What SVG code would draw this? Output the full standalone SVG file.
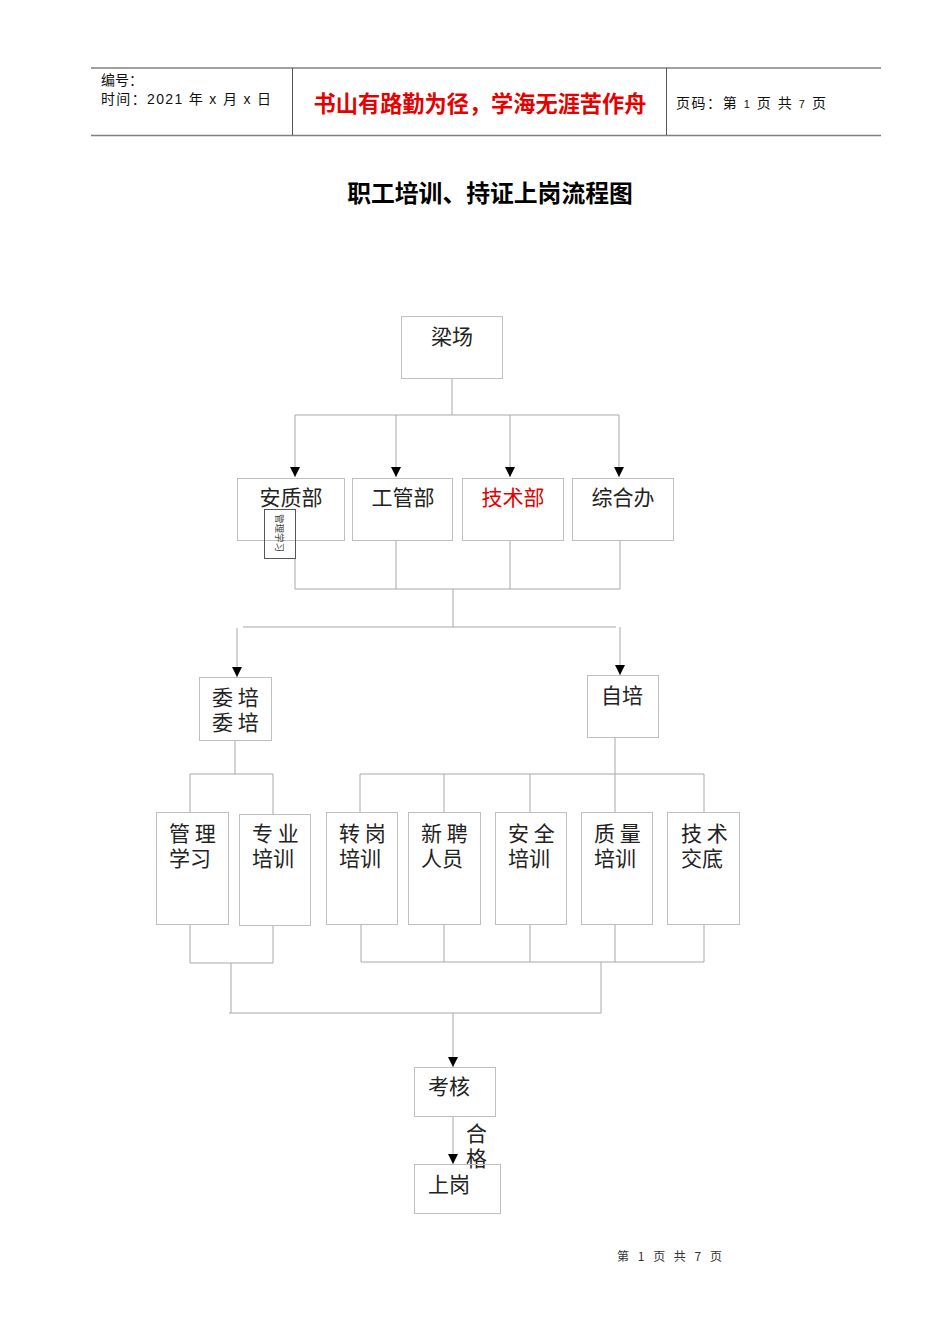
<svg xmlns="http://www.w3.org/2000/svg" width="950" height="1344" viewBox="0 0 950 1344">
<style>
.hd{stroke:#808080;stroke-width:1.5;fill:none}
.box{fill:none;stroke:#bfbfbf;stroke-width:1}
.ln{fill:none;stroke:#a8a8a8;stroke-width:1}
.t{font-family:"Noto Sans CJK SC","Noto Sans CJK JP",sans-serif;font-size:21px;fill:#222}
.h{font-family:"Liberation Sans","Noto Sans CJK SC",sans-serif;font-size:14px;fill:#111}
</style>
<defs>
<marker id="ar" markerUnits="userSpaceOnUse" markerWidth="10" markerHeight="10" refX="10" refY="5" orient="auto" viewBox="0 0 10 10">
<path d="M0,0 L10,5 L0,10 z" fill="#000"/>
</marker>
</defs>
<rect width="950" height="1344" fill="#fff"/>
<g id="header">
<line class="hd" x1="91" y1="68" x2="881" y2="68"/>
<line class="hd" x1="91" y1="135.5" x2="881" y2="135.5"/>
<line x1="292.5" y1="68" x2="292.5" y2="135" stroke="#555" stroke-width="1"/>
<line x1="666.5" y1="68" x2="666.5" y2="135" stroke="#555" stroke-width="1"/>
<text class="h" x="101" y="85">编号：</text>
<text class="h" x="101" y="104" textLength="170" lengthAdjust="spacing">时间：2021 年 x 月 x 日</text>
<text x="480" y="112" text-anchor="middle" font-family="'Noto Sans CJK SC',sans-serif" font-size="22.2" font-weight="bold" fill="#e60000">书山有路勤为径，学海无涯苦作舟</text>
<text class="h" x="676" y="108" textLength="150" lengthAdjust="spacing">页码：第 <tspan font-size="11">1</tspan> 页  共 <tspan font-size="11">7</tspan> 页</text>
</g>
<text id="title" x="490" y="202" text-anchor="middle" font-family="'Noto Sans CJK SC',sans-serif" font-size="23.8" font-weight="bold" fill="#000">职工培训、持证上岗流程图</text>
<g id="connectors">
<path class="ln" d="M452,378 V415 M295,415 H619"/>
<path class="ln" d="M295,415 V477" marker-end="url(#ar)"/>
<path class="ln" d="M396,415 V477" marker-end="url(#ar)"/>
<path class="ln" d="M510,415 V477" marker-end="url(#ar)"/>
<path class="ln" d="M619,415 V477" marker-end="url(#ar)"/>
<path class="ln" d="M295,558 V589 M396,540 V589 M510,540 V589 M620,540 V589 M295,589 H620 M453,589 V627 M243,627 H616"/>
<path class="ln" d="M237,628 V677" marker-end="url(#ar)"/>
<path class="ln" d="M620,627 V675" marker-end="url(#ar)"/>
<path class="ln" d="M235,740 V774 M190,774 H273 M190,774 V812 M273,774 V814"/>
<path class="ln" d="M615,737 V774 M360,774 H704 M360,774 V812 M444,774 V812 M530,774 V812 M615,774 V812 M704,774 V812"/>
<path class="ln" d="M190,924 V963 M273,925 V963 M190,963 H273 M231,963 V1013"/>
<path class="ln" d="M361,924 V962 M444,924 V962 M530,924 V962 M615,924 V962 M704,924 V962 M361,962 H704 M601,962 V1013 M229,1013 H601"/>
<path class="ln" d="M453,1013 V1067" marker-end="url(#ar)"/>
<path class="ln" d="M453,1116 V1164" marker-end="url(#ar)"/>
</g>
<g id="n-liangchang"><rect class="box" x="401.5" y="316.5" width="101" height="62"/><text class="t" x="452" y="344" text-anchor="middle">梁场</text></g>
<g id="n-anzhibu"><rect class="box" x="237.5" y="478.5" width="107" height="62"/><text class="t" x="291" y="505" text-anchor="middle">安质部</text></g>
<g id="n-guanli-small"><rect x="264.5" y="509.5" width="31" height="49" fill="none" stroke="#555" stroke-width="1"/><text x="279.5" y="533" text-anchor="middle" dominant-baseline="central" transform="rotate(90 279.5 533)" font-family="'Noto Sans CJK SC',sans-serif" font-size="9.5" fill="#444">管理学习</text></g>
<g id="n-gongguanbu"><rect class="box" x="352.5" y="478.5" width="100" height="62"/><text class="t" x="403" y="505" text-anchor="middle">工管部</text></g>
<g id="n-jishubu"><rect class="box" x="462.5" y="478.5" width="101" height="62"/><text class="t" x="513" y="505" text-anchor="middle" style="fill:#e60000">技术部</text></g>
<g id="n-zongheban"><rect class="box" x="572.5" y="478.5" width="101" height="62"/><text class="t" x="623" y="505" text-anchor="middle">综合办</text></g>
<g id="n-weipei"><rect class="box" x="199.5" y="677.5" width="72" height="63"/><text class="t" x="212" y="705">委 培</text><text class="t" x="212" y="730">委 培</text></g>
<g id="n-zipei"><rect class="box" x="587.5" y="675.5" width="71" height="62"/><text class="t" x="622" y="703" text-anchor="middle">自培</text></g>
<g id="n-guanlixuexi"><rect class="box" x="156.5" y="812.5" width="72" height="112"/><text class="t" x="169" y="841">管 理</text><text class="t" x="169" y="866">学习</text></g>
<g id="n-zhuanye"><rect class="box" x="239.5" y="814.5" width="71" height="111"/><text class="t" x="252" y="841">专 业</text><text class="t" x="252" y="866">培训</text></g>
<g id="n-zhuangang"><rect class="box" x="326.5" y="812.5" width="71" height="112"/><text class="t" x="339" y="841">转 岗</text><text class="t" x="339" y="866">培训</text></g>
<g id="n-xinpin"><rect class="box" x="408.5" y="812.5" width="72" height="112"/><text class="t" x="421" y="841">新 聘</text><text class="t" x="421" y="866">人员</text></g>
<g id="n-anquan"><rect class="box" x="495.5" y="812.5" width="71" height="112"/><text class="t" x="508" y="841">安 全</text><text class="t" x="508" y="866">培训</text></g>
<g id="n-zhiliang"><rect class="box" x="581.5" y="812.5" width="71" height="112"/><text class="t" x="594" y="841">质 量</text><text class="t" x="594" y="866">培训</text></g>
<g id="n-jishujiaodi"><rect class="box" x="667.5" y="812.5" width="72" height="112"/><text class="t" x="681" y="841">技 术</text><text class="t" x="681" y="866">交底</text></g>
<g id="n-kaohe"><rect class="box" x="414.5" y="1067.5" width="81" height="49"/><text class="t" x="428" y="1094">考核</text></g>
<g id="label-hege"><text class="t" x="466" y="1141">合</text><text class="t" x="466" y="1166">格</text></g>
<g id="n-shanggang"><rect class="box" x="414.5" y="1164.5" width="86" height="49"/><text class="t" x="428" y="1192">上岗</text></g>
<text id="footer" x="617" y="1261" textLength="105" lengthAdjust="spacing" font-family="'Noto Sans CJK SC',sans-serif" font-size="12" fill="#333">第 1 页 共 7 页</text>
</svg>
